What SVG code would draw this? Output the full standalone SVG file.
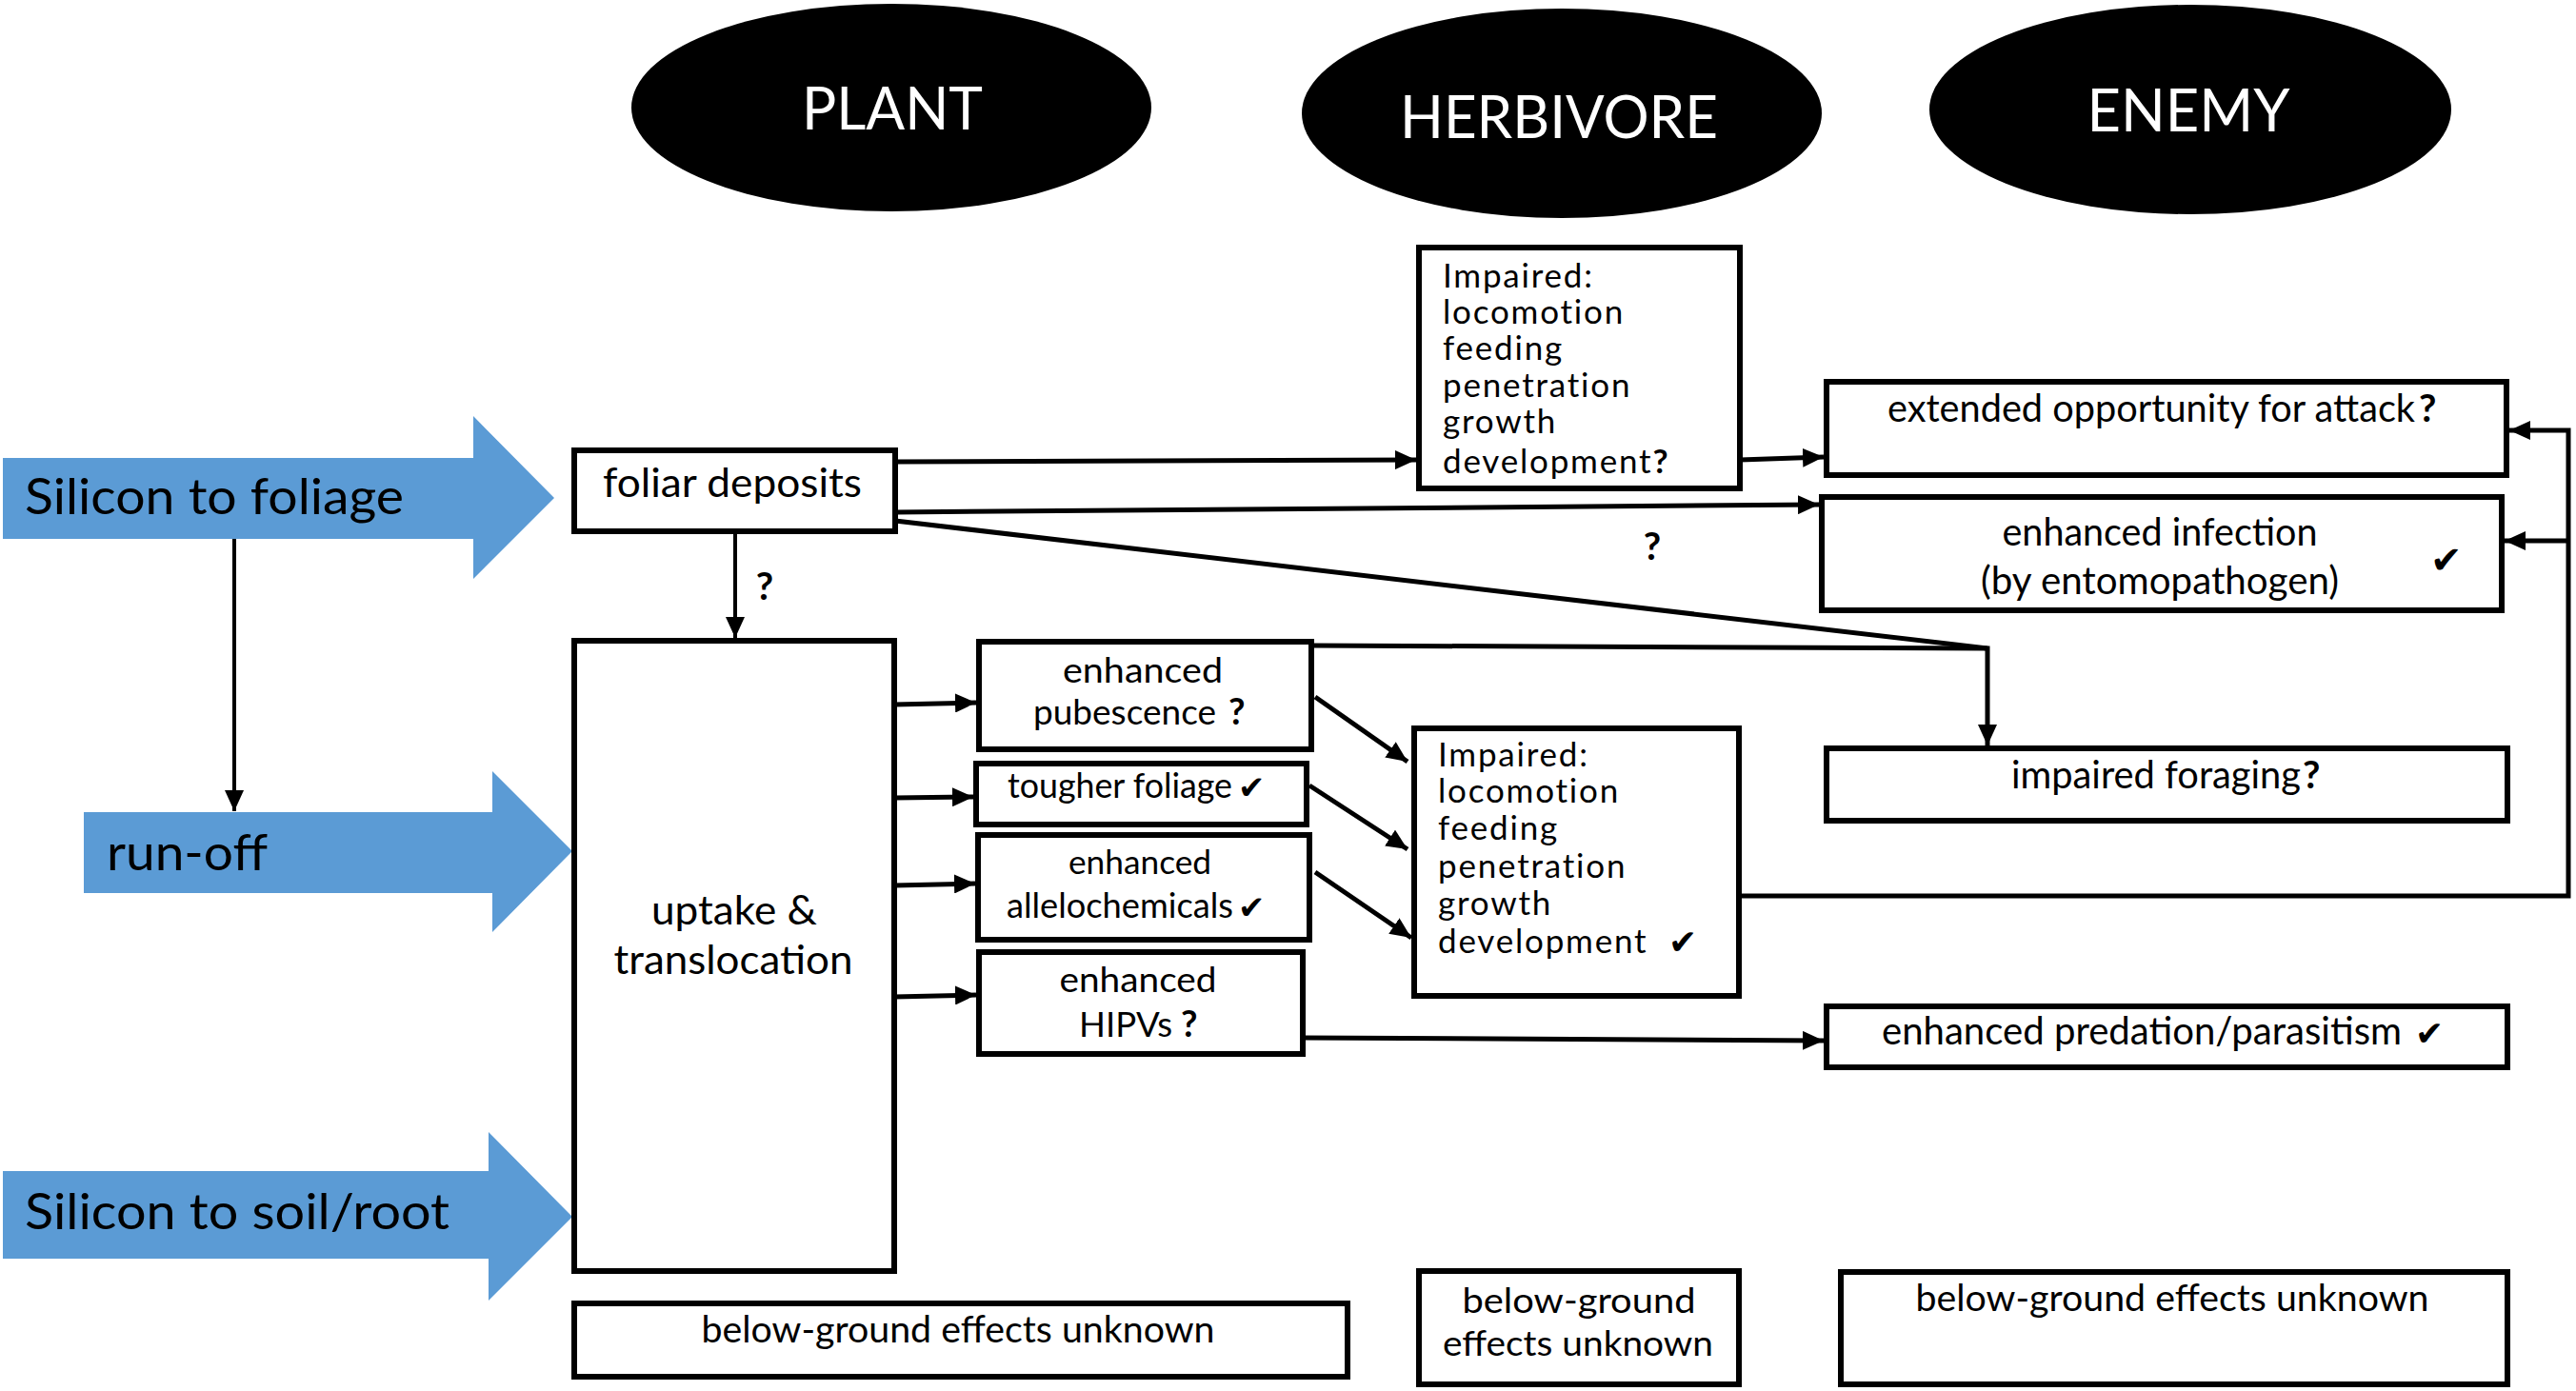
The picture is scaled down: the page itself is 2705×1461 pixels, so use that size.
<svg xmlns="http://www.w3.org/2000/svg" width="2705" height="1461" viewBox="0 0 2705 1461">
<defs>
<style>
.box{fill:#fff;stroke:#000;stroke-width:6}
.blue{fill:#5B9BD5}
.head{fill:#000}
.t{font-family:Lato,"Open Sans","Liberation Sans",sans-serif;fill:#000}
.w{font-family:Lato,"Open Sans","Liberation Sans",sans-serif;fill:#fff;font-size:62px;text-anchor:middle}
.c{text-anchor:middle}
.b{font-weight:bold}
.ck{font-family:"DejaVu Sans",sans-serif;font-weight:bold}
.lst{font-size:35px;letter-spacing:1.8px}
.con{fill:none;stroke:#000;stroke-width:5}
.thin{fill:none;stroke:#000;stroke-width:4}
</style>
<marker id="ah" markerUnits="userSpaceOnUse" markerWidth="24" markerHeight="20" refX="22" refY="10" orient="auto">
<path d="M0,0 L22,10 L0,20 z" fill="#000"/>
</marker>
</defs>
<rect width="2705" height="1461" fill="#fff"/>

<g id="hdr-plant"><ellipse class="head" cx="936" cy="113" rx="273" ry="109"/><text class="w" x="937" y="136" textLength="190" lengthAdjust="spacingAndGlyphs">PLANT</text></g>
<g id="hdr-herbivore"><ellipse class="head" cx="1640" cy="119" rx="273" ry="110"/><text class="w" x="1637" y="145" textLength="334" lengthAdjust="spacingAndGlyphs">HERBIVORE</text></g>
<g id="hdr-enemy"><ellipse class="head" cx="2300" cy="115" rx="274" ry="110"/><text class="w" x="2298" y="138" textLength="213" lengthAdjust="spacingAndGlyphs">ENEMY</text></g>

<g id="arrow-foliage"><polygon class="blue" points="3,481 497,481 497,437 582,523 497,608 497,566 3,566"/><text class="t" x="26" y="540" font-size="52" textLength="398" lengthAdjust="spacingAndGlyphs">Silicon to foliage</text></g>
<g id="arrow-runoff"><polygon class="blue" points="88,853 517,853 517,810 601,894 517,979 517,938 88,938"/><text class="t" x="112" y="914" font-size="52" textLength="169" lengthAdjust="spacingAndGlyphs">run-off</text></g>
<g id="arrow-soil"><polygon class="blue" points="3,1230 513,1230 513,1189 601,1278 513,1366 513,1322 3,1322"/><text class="t" x="26" y="1291" font-size="52" textLength="446" lengthAdjust="spacingAndGlyphs">Silicon to soil/root</text></g>

<g id="foliar"><rect class="box" x="603" y="473" width="337" height="85"/><text class="t" x="633" y="522" font-size="42" textLength="272" lengthAdjust="spacingAndGlyphs">foliar deposits</text></g>
<g id="uptake"><rect class="box" x="603" y="673" width="336" height="662"/><text class="t c" x="771" y="971" font-size="42" textLength="174" lengthAdjust="spacingAndGlyphs">uptake &amp;</text><text class="t c" x="770" y="1023" font-size="42" textLength="251" lengthAdjust="spacingAndGlyphs">translocation</text></g>
<g id="pubescence"><rect class="box" x="1028" y="674" width="349" height="113"/><text class="t c" x="1200" y="717" font-size="37" textLength="168" lengthAdjust="spacingAndGlyphs">enhanced</text><text class="t" x="1085" y="761" font-size="37" textLength="192" lengthAdjust="spacingAndGlyphs">pubescence</text><text class="t b" x="1290" y="761" font-size="38">?</text></g>
<g id="tougher"><rect class="box" x="1025" y="802" width="347" height="64"/><text class="t" x="1058" y="838" font-size="37" textLength="236" lengthAdjust="spacingAndGlyphs">tougher foliage</text><text class="ck" x="1300" y="839" font-size="34">✔</text></g>
<g id="allelo"><rect class="box" x="1027" y="877" width="348" height="110"/><text class="t c" x="1197" y="918" font-size="34" textLength="150" lengthAdjust="spacingAndGlyphs">enhanced</text><text class="t" x="1057" y="964" font-size="37" textLength="238" lengthAdjust="spacingAndGlyphs">allelochemicals</text><text class="ck" x="1300" y="965" font-size="34">✔</text></g>
<g id="hipvs"><rect class="box" x="1028" y="1000" width="340" height="107"/><text class="t c" x="1195" y="1042" font-size="37" textLength="165" lengthAdjust="spacingAndGlyphs">enhanced</text><text class="t" x="1133" y="1089" font-size="37" textLength="98" lengthAdjust="spacingAndGlyphs">HIPVs</text><text class="t b" x="1240" y="1089" font-size="38">?</text></g>
<g id="below-plant"><rect class="box" x="603" y="1369" width="812" height="77"/><text class="t c" x="1006" y="1410" font-size="38" textLength="539" lengthAdjust="spacingAndGlyphs">below-ground effects unknown</text></g>

<g id="herb-top"><rect class="box" x="1490" y="260" width="337" height="253"/>
<text class="t lst"><tspan x="1515" y="302">Impaired:</tspan><tspan x="1515" y="340">locomotion</tspan><tspan x="1515" y="378">feeding</tspan><tspan x="1515" y="417">penetration</tspan><tspan x="1515" y="455">growth</tspan><tspan x="1515" y="497">development<tspan class="b">?</tspan></tspan></text></g>
<g id="herb-low"><rect class="box" x="1485" y="765" width="341" height="281"/>
<text class="t lst"><tspan x="1510" y="805">Impaired:</tspan><tspan x="1510" y="843">locomotion</tspan><tspan x="1510" y="882">feeding</tspan><tspan x="1510" y="922">penetration</tspan><tspan x="1510" y="961">growth</tspan><tspan x="1510" y="1001">development</tspan></text><text class="ck" x="1752" y="1002" font-size="36">✔</text></g>
<g id="below-herb"><rect class="box" x="1490" y="1335" width="336" height="119"/><text class="t c" x="1658" y="1379" font-size="37" textLength="245" lengthAdjust="spacingAndGlyphs">below-ground</text><text class="t c" x="1657" y="1424" font-size="37" textLength="284" lengthAdjust="spacingAndGlyphs">effects unknown</text></g>

<g id="extended"><rect class="box" x="1918" y="401" width="714" height="98"/><text class="t" x="1982" y="443" font-size="40" textLength="554" lengthAdjust="spacingAndGlyphs">extended opportunity for attack</text><text class="t b" x="2540" y="443" font-size="40">?</text></g>
<g id="infection"><rect class="box" x="1913" y="522" width="714" height="119"/><text class="t c" x="2268" y="573" font-size="40" textLength="331" lengthAdjust="spacingAndGlyphs">enhanced infection</text><text class="t c" x="2268" y="624" font-size="40" textLength="376" lengthAdjust="spacingAndGlyphs">(by entomopathogen)</text><text class="ck" x="2552" y="602" font-size="40">✔</text></g>
<g id="foraging"><rect class="box" x="1918" y="786" width="715" height="76"/><text class="t" x="2112" y="828" font-size="40" textLength="304" lengthAdjust="spacingAndGlyphs">impaired foraging</text><text class="t b" x="2418" y="828" font-size="40">?</text></g>
<g id="predation"><rect class="box" x="1918" y="1057" width="715" height="64"/><text class="t" x="1976" y="1097" font-size="40" textLength="546" lengthAdjust="spacingAndGlyphs">enhanced predation/parasitism</text><text class="ck" x="2536" y="1098" font-size="36">✔</text></g>
<g id="below-enemy"><rect class="box" x="1933" y="1336" width="700" height="118"/><text class="t c" x="2281" y="1377" font-size="38" textLength="539" lengthAdjust="spacingAndGlyphs">below-ground effects unknown</text></g>

<g id="labels"><text class="t b c" x="1735" y="588" font-size="40">?</text><text class="t b c" x="803" y="630" font-size="40">?</text></g>

<g id="connectors">
<path class="con" d="M940,485 L1487,483" marker-end="url(#ah)"/>
<path class="con" d="M1827,483 L1915,480" marker-end="url(#ah)"/>
<path class="con" d="M940,538 L1910,530" marker-end="url(#ah)"/>
<path class="con" d="M940,547 L2087,681"/>
<path class="con" d="M1377,678 L2087,681 L2087,783" marker-end="url(#ah)"/>
<path class="thin" d="M246,566 L246,852" marker-end="url(#ah)"/>
<path class="thin" d="M772,560 L772,670" marker-end="url(#ah)"/>
<path class="con" d="M939,740 L1025,738" marker-end="url(#ah)"/>
<path class="con" d="M939,838 L1022,837" marker-end="url(#ah)"/>
<path class="con" d="M939,930 L1024,928" marker-end="url(#ah)"/>
<path class="con" d="M939,1047 L1025,1045" marker-end="url(#ah)"/>
<path class="con" d="M1381,732 L1478,800" marker-end="url(#ah)"/>
<path class="con" d="M1375,825 L1478,892" marker-end="url(#ah)"/>
<path class="con" d="M1381,916 L1482,985" marker-end="url(#ah)"/>
<path class="con" d="M1368,1090 L1915,1093" marker-end="url(#ah)"/>
<path class="con" d="M1826,941 L2697,941 L2697,452 L2635,452" marker-end="url(#ah)"/>
<path class="con" d="M2697,568 L2630,568" marker-end="url(#ah)"/>
</g>
</svg>
